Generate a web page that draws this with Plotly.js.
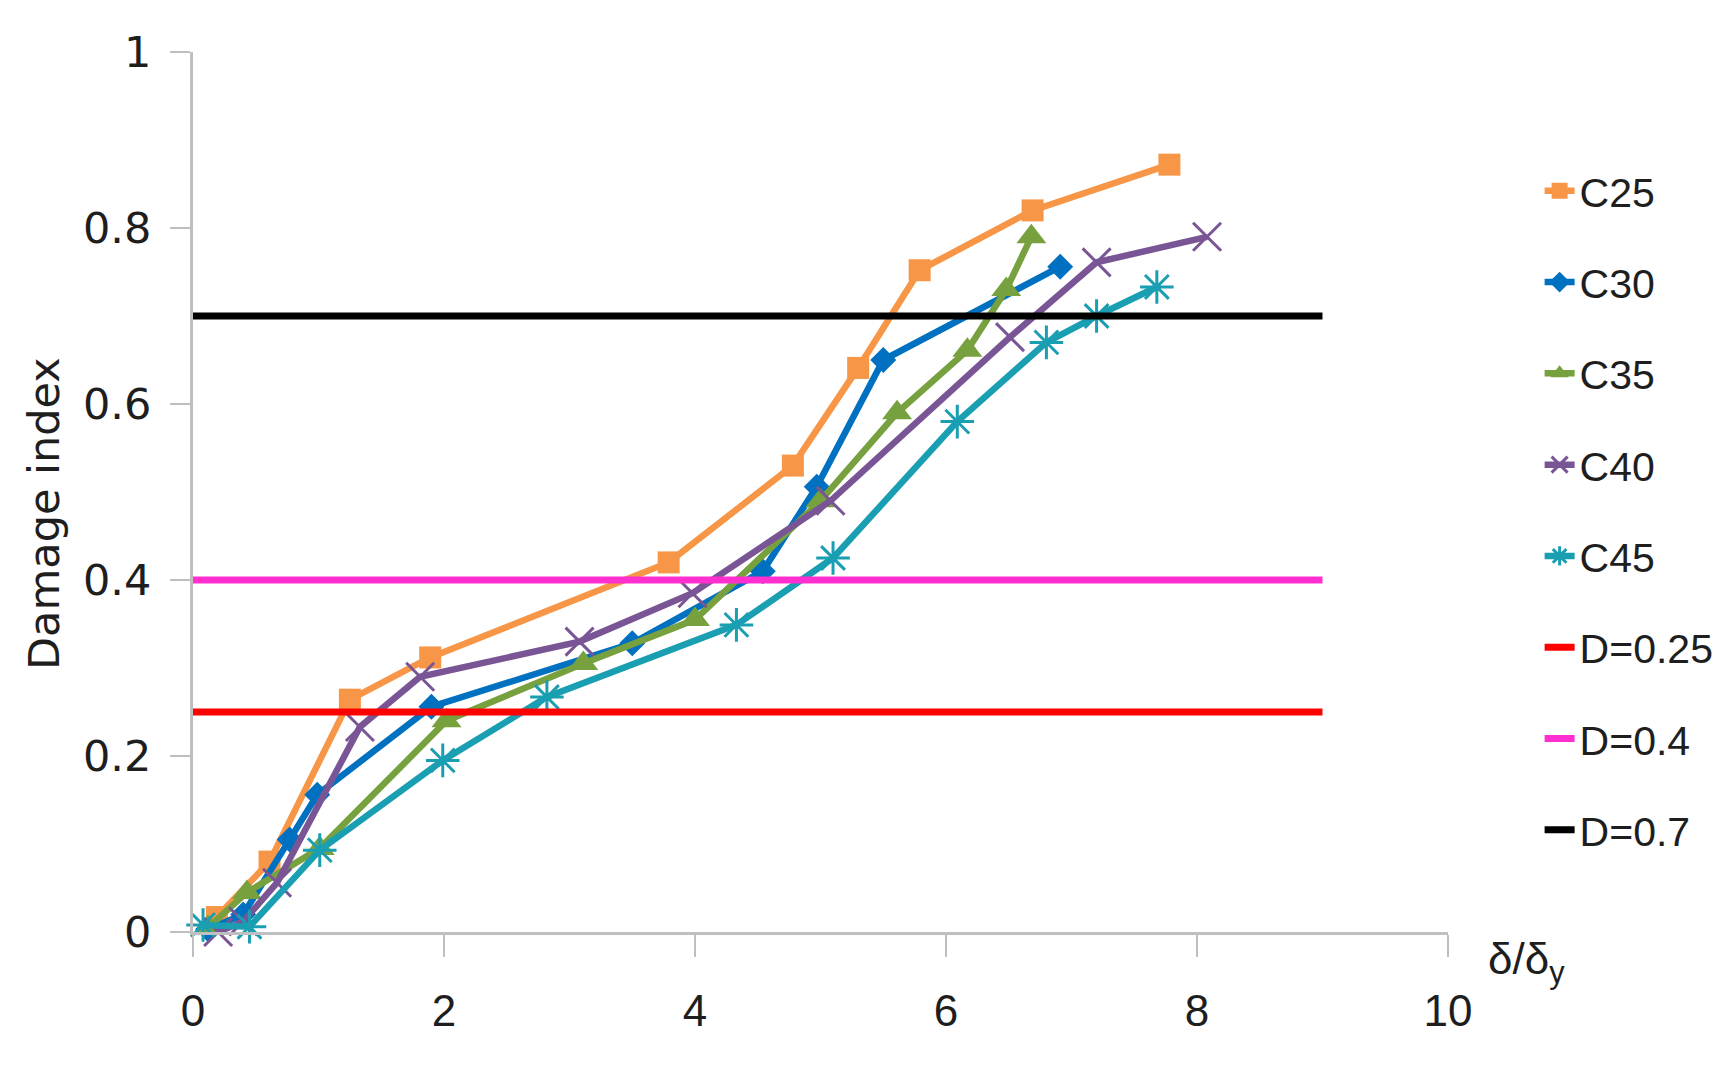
<!DOCTYPE html>
<html>
<head>
<meta charset="utf-8">
<script src="https://cdn.plot.ly/plotly-3.0.1.min.js"></script>
<style>html,body{margin:0;padding:0;background:#fff;}#chart{width:1733px;height:1067px;}</style>
</head>
<body>
<div id="chart"></div>
<script>
// Data
const c25x = [0.19, 0.61, 1.25, 1.89, 3.79, 4.78, 5.30, 5.79, 6.69, 7.78];
const c25y = [0.017, 0.08, 0.264, 0.312, 0.42, 0.53, 0.641, 0.752, 0.82, 0.872];

const c30x = [0.12, 0.40, 0.77, 0.99, 1.90, 3.50, 4.54, 4.97, 5.50, 6.91];
const c30y = [0.003, 0.02, 0.105, 0.156, 0.256, 0.328, 0.41, 0.506, 0.65, 0.756];

const c35x = [0.12, 0.43, 1.01, 2.02, 3.11, 4.00, 5.00, 5.61, 6.17, 6.48, 6.68];
const c35y = [0.005, 0.045, 0.095, 0.24, 0.305, 0.355, 0.49, 0.59, 0.661, 0.73, 0.79];

const c40x = [0.20, 0.40, 0.67, 1.33, 1.81, 3.08, 3.98, 5.08, 6.51, 7.20, 8.08];
const c40y = [0.0, 0.012, 0.056, 0.233, 0.29, 0.33, 0.385, 0.49, 0.676, 0.761, 0.79];

const c45x = [0.08, 0.45, 1.01, 1.99, 2.82, 4.33, 5.10, 6.09, 6.80, 7.20, 7.68];
const c45y = [0.008, 0.006, 0.093, 0.195, 0.267, 0.349, 0.425, 0.58, 0.67, 0.70, 0.733];

const seriesNames = ["C25", "C30", "C35", "C40", "C45"];
const dNames = ["D=0.25", "D=0.4", "D=0.7"];
const dLevels = [0.25, 0.4, 0.7];
const dRange = [0, 9];

const xTicks = [0, 2, 4, 6, 8, 10];
const yTicks = [0, 0.2, 0.4, 0.6, 0.8, 1];
const yTickText = ["0", "0.2", "0.4", "0.6", "0.8", "1"];

const seriesX = [c25x, c30x, c35x, c40x, c45x];
const seriesY = [c25y, c30y, c35y, c40y, c45y];
const seriesColors = ["#F79646", "#0070C0", "#77A03E", "#7A5595", "#1A9EB2"];
const markerStyles = [
  {symbol: "square", size: 22},
  {symbol: "diamond", size: 20},
  {symbol: "triangle-up", size: 26},
  {symbol: "x-thin-open", size: 28, line: {width: 3, color: "#7A5595"}},
  {symbol: "asterisk-open", size: 28, line: {width: 3, color: "#1A9EB2"}}
];
const dColors = ["#FF0000", "#FF2ECF", "#000000"];

const traces = [];
seriesNames.forEach((n, i) => {
  const m = Object.assign({color: seriesColors[i]}, markerStyles[i]);
  traces.push({
    x: seriesX[i], y: seriesY[i], name: n, type: "scatter", mode: "lines+markers",
    line: {color: seriesColors[i], width: 6.5}, marker: m, cliponaxis: false,
    legendgroup: n
  });
});
dNames.forEach((n, i) => {
  traces.push({
    x: dRange, y: [dLevels[i], dLevels[i]], name: n, type: "scatter", mode: "lines",
    line: {color: dColors[i], width: 7}, legendgroup: n
  });
});

const txt = "#1e1e1e";
const layout = {
  width: 1733, height: 1067,
  margin: {l: 193, r: 285, t: 52, b: 135},
  paper_bgcolor: "#ffffff", plot_bgcolor: "#ffffff",
  font: {family: "Liberation Sans, Arial, sans-serif", color: txt},
  showlegend: true,
  legend: {
    x: 1.073, xanchor: "left", y: 0.88, yanchor: "top",
    font: {size: 41, family: "Liberation Sans, Arial, sans-serif", color: txt},
    tracegroupgap: 35, bgcolor: "rgba(0,0,0,0)"
  },
  xaxis: {
    range: [0, 10], tickvals: xTicks, ticktext: xTicks.map(String),
    showgrid: false, zeroline: false, showline: true, linecolor: "#BFBFBF", linewidth: 3,
    ticks: "outside", ticklen: 22, tickwidth: 2, tickcolor: "#BFBFBF",
    tickfont: {size: 44, family: "Liberation Sans, Arial, sans-serif", color: txt},
    ticklabelstandoff: 16
  },
  yaxis: {
    range: [0, 1], tickvals: yTicks, ticktext: yTickText,
    showgrid: false, zeroline: false, showline: true, linecolor: "#BFBFBF", linewidth: 3,
    ticks: "outside", ticklen: 20, tickwidth: 2, tickcolor: "#BFBFBF",
    tickfont: {size: 43, family: "DejaVu Sans, sans-serif", color: txt},
    ticklabelstandoff: 10
  },
  annotations: [
    {
      xref: "paper", yref: "paper", x: 0, y: 0.475, xanchor: "center", yanchor: "middle",
      xshift: -149, showarrow: false, textangle: -90,
      text: "Damage index", font: {size: 43, family: "DejaVu Sans, sans-serif", color: txt}
    },
    {
      xref: "paper", yref: "paper", x: 1, y: 0, xanchor: "left", yanchor: "top",
      xshift: 38, yshift: 0, showarrow: false,
      text: "δ/δ<sub>y</sub>", font: {size: 44, family: "Liberation Sans, Arial, sans-serif", color: txt}
    }
  ]
};

Plotly.newPlot("chart", traces, layout, {displayModeBar: false, staticPlot: true});
</script>
</body>
</html>
